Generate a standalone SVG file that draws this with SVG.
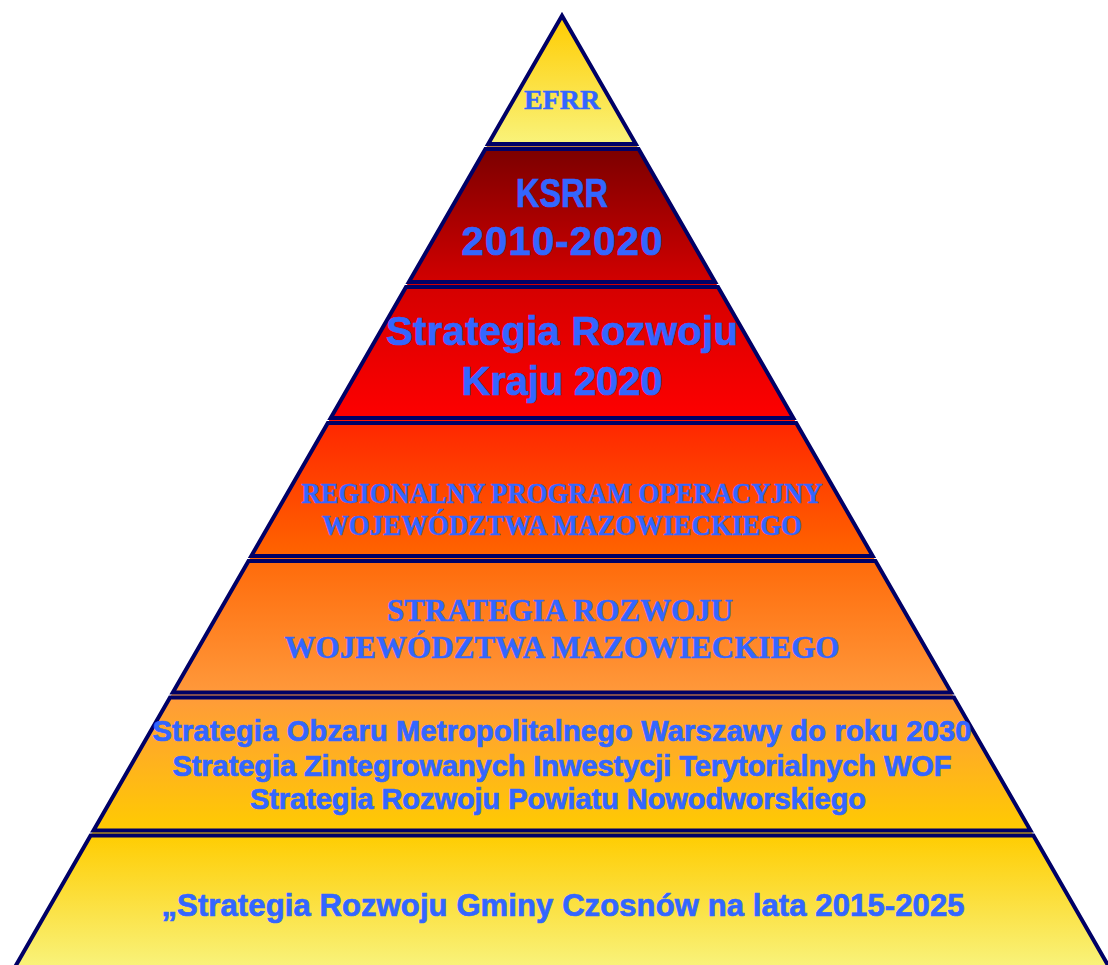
<svg xmlns="http://www.w3.org/2000/svg" width="1108" height="965" viewBox="0 0 1108 965">
<style>
.edge{fill:none;stroke:#000066;stroke-width:4;stroke-linejoin:miter}
.t{fill:#3366FF;stroke:#3366FF;stroke-width:0.7;font-weight:bold;text-anchor:middle}
.sans{font-family:"Liberation Sans",Arial,sans-serif}
.serif{font-family:"Liberation Serif","Times New Roman",serif;stroke-width:0.5}
</style>
<defs>
<linearGradient id="g1" x1="0" y1="0" x2="0" y2="1"><stop offset="0" stop-color="#FFCC00"/><stop offset="1" stop-color="#F9F47E"/></linearGradient>
<linearGradient id="g2" x1="0" y1="0" x2="0" y2="1"><stop offset="0" stop-color="#7A0000"/><stop offset="1" stop-color="#D40000"/></linearGradient>
<linearGradient id="g3" x1="0" y1="0" x2="0" y2="1"><stop offset="0" stop-color="#D40000"/><stop offset="1" stop-color="#FF0000"/></linearGradient>
<linearGradient id="g4" x1="0" y1="0" x2="0" y2="1"><stop offset="0" stop-color="#FF2600"/><stop offset="1" stop-color="#FF6600"/></linearGradient>
<linearGradient id="g5" x1="0" y1="0" x2="0" y2="1"><stop offset="0" stop-color="#FF6A0A"/><stop offset="1" stop-color="#FF9A3C"/></linearGradient>
<linearGradient id="g6" x1="0" y1="0" x2="0" y2="1"><stop offset="0" stop-color="#FF9A3A"/><stop offset="1" stop-color="#FFCC00"/></linearGradient>
<linearGradient id="g7" x1="0" y1="0" x2="0" y2="1"><stop offset="0" stop-color="#FFCC00"/><stop offset="1" stop-color="#F8F582"/></linearGradient>
</defs>
<g id="tier-efrr">
<polygon points="562,15.7 637.8,147.5 486.2,147.5" fill="url(#g1)"/>
<polygon class="edge" points="562,15.7 635.8,144 488.2,144"/>
<text class="t serif" x="562" y="109" font-size="28">EFRR</text>
</g>
<g id="tier-ksrr">
<polygon points="486.8,146.5 637.2,146.5 717.2,285.5 406.8,285.5" fill="url(#g2)"/>
<polygon class="edge" points="485.4,149 638.6,149 715.1,282 408.9,282"/>
<text class="t sans" x="562" y="207" font-size="40" textLength="92" lengthAdjust="spacingAndGlyphs">KSRR</text>
<text class="t sans" x="562" y="255" font-size="40" textLength="201">2010-2020</text>
</g>
<g id="tier-srk">
<polygon points="407.4,284.5 716.6,284.5 795.4,421.5 328.6,421.5" fill="url(#g3)"/>
<polygon class="edge" points="406,287 718,287 793.3,418 330.7,418"/>
<text class="t sans" x="562" y="345" font-size="40" textLength="352">Strategia Rozwoju</text>
<text class="t sans" x="562" y="395" font-size="40" textLength="201">Kraju 2020</text>
</g>
<g id="tier-rpo">
<polygon points="329.2,420.5 794.8,420.5 874.7,559.5 249.3,559.5" fill="url(#g4)"/>
<polygon class="edge" points="327.8,423 796.2,423 872.7,556 251.3,556"/>
<text class="t serif" x="562" y="503" font-size="29" textLength="521" lengthAdjust="spacingAndGlyphs">REGIONALNY PROGRAM OPERACYJNY</text>
<text class="t serif" x="562" y="535" font-size="29" textLength="480" lengthAdjust="spacingAndGlyphs">WOJEWÓDZTWA MAZOWIECKIEGO</text>
</g>
<g id="tier-srwm">
<polygon points="249.9,558.5 874.1,558.5 953.2,696 170.8,696" fill="url(#g5)"/>
<polygon class="edge" points="248.5,561 875.5,561 951.2,692.5 172.8,692.5"/>
<text class="t serif" x="560" y="621" font-size="31" textLength="346" lengthAdjust="spacingAndGlyphs">STRATEGIA ROZWOJU</text>
<text class="t serif" x="562" y="658" font-size="31" textLength="555" lengthAdjust="spacingAndGlyphs">WOJEWÓDZTWA MAZOWIECKIEGO</text>
</g>
<g id="tier-som">
<polygon points="171.4,695 952.6,695 1032.5,834 91.5,834" fill="url(#g6)"/>
<polygon class="edge" points="170,697.5 954,697.5 1030.5,830.5 93.5,830.5"/>
<text class="t sans" x="562" y="741" font-size="29" textLength="819">Strategia Obzaru Metropolitalnego Warszawy do roku 2030</text>
<text class="t sans" x="562" y="776" font-size="29" textLength="779">Strategia Zintegrowanych Inwestycji Terytorialnych WOF</text>
<text class="t sans" x="558" y="809" font-size="29" textLength="616">Strategia Rozwoju Powiatu Nowodworskiego</text>
</g>
<g id="tier-gmina">
<polygon points="92.1,833 1031.9,833 1113.6,975 10.4,975" fill="url(#g7)"/>
<polygon class="edge" points="90.6,835.5 1033.4,835.5 1113.6,975 10.4,975"/>
<text class="t sans" x="563" y="916" font-size="31" textLength="803">„Strategia Rozwoju Gminy Czosnów na lata 2015-2025</text>
</g>
<g id="connectors"/>
</svg>
